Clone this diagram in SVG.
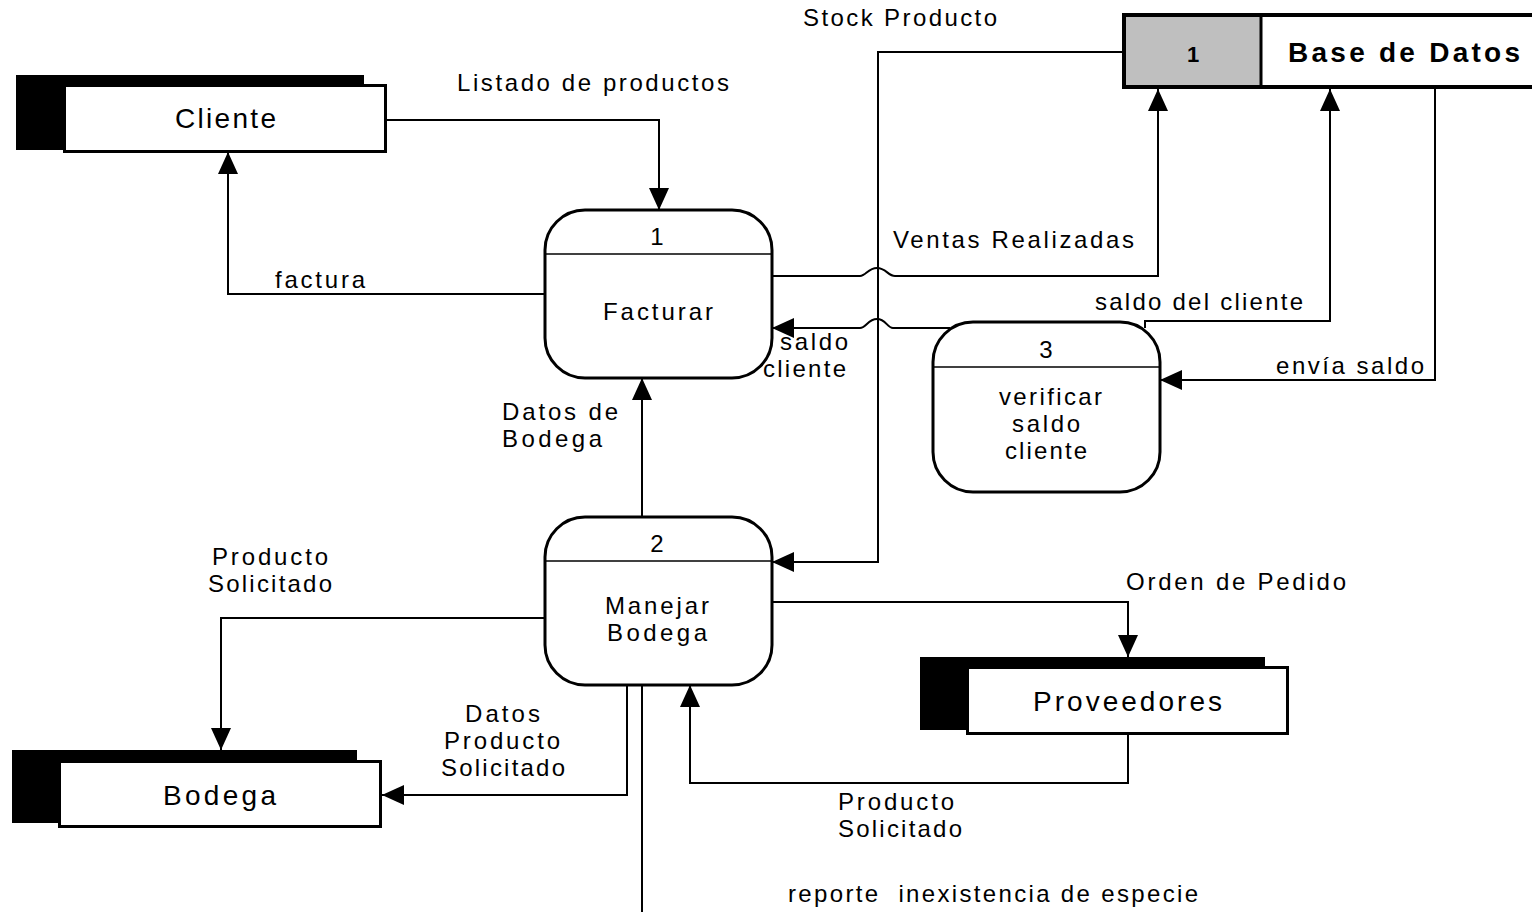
<svg xmlns="http://www.w3.org/2000/svg" width="1532" height="912" viewBox="0 0 1532 912">
<style>
text{font-family:"Liberation Sans",Arial,sans-serif;fill:#000}
.lbl{font-size:24px}
.ent{font-size:28px}
.bold{font-weight:bold;font-size:28px}
.proc{fill:#fff;stroke:#000;stroke-width:3}
.div{stroke:#000;stroke-width:1.5}
.shadow{fill:#000}
.box{fill:#fff;stroke:#000;stroke-width:3}
.conn{fill:none;stroke:#000;stroke-width:2}
</style>
<defs>
<marker id="arr" markerUnits="userSpaceOnUse" markerWidth="24" markerHeight="22" refX="22" refY="10" orient="auto">
<path d="M0,0 L22,10 L0,20 z" fill="#000"/>
</marker>
</defs>
<rect width="1532" height="912" fill="#fff"/>

<g id="connectors">
<path class="conn" d="M387,120 H659 V210" marker-end="url(#arr)"/>
<path class="conn" d="M545,294 H228 V152" marker-end="url(#arr)"/>
<path class="conn" d="M772,276 H860 C866,276 868,268 877,268 C886,268 888,276 895,276 H1158 V89" marker-end="url(#arr)"/>
<path class="conn" d="M950,328 H893 C887,328 886,319 877,319 C868,319 866,328 860,328 H772" marker-end="url(#arr)"/>
<path class="conn" d="M1145,328 V321 H1330 V89" marker-end="url(#arr)"/>
<path class="conn" d="M1435,89 V380 H1160" marker-end="url(#arr)"/>
<path class="conn" d="M1122,52 H878 V562 H772" marker-end="url(#arr)"/>
<path class="conn" d="M642,517 V378" marker-end="url(#arr)"/>
<path class="conn" d="M545,618 H221 V750" marker-end="url(#arr)"/>
<path class="conn" d="M627,685 V795 H382" marker-end="url(#arr)"/>
<path class="conn" d="M772,602 H1128 V657" marker-end="url(#arr)"/>
<path class="conn" d="M1128,735 V783 H690 V685" marker-end="url(#arr)"/>
<path class="conn" d="M642,685 V912"/>
</g>

<g id="labels">
<text class="lbl" x="803" y="26" textLength="194" lengthAdjust="spacing">Stock Producto</text>
<text class="lbl" x="457" y="91" textLength="272" lengthAdjust="spacing">Listado de productos</text>
<text class="lbl" x="275" y="288" textLength="90" lengthAdjust="spacing">factura</text>
<text class="lbl" x="893" y="248" textLength="241" lengthAdjust="spacing">Ventas Realizadas</text>
<text class="lbl" x="1095" y="310" textLength="208" lengthAdjust="spacing">saldo del cliente</text>
<text class="lbl" x="780" y="350" textLength="68" lengthAdjust="spacing">saldo</text>
<text class="lbl" x="763" y="377" textLength="83" lengthAdjust="spacing">cliente</text>
<text class="lbl" x="1276" y="374" textLength="148" lengthAdjust="spacing">envía saldo</text>
<text class="lbl" x="502" y="420" textLength="116" lengthAdjust="spacing">Datos de</text>
<text class="lbl" x="502" y="447" textLength="100" lengthAdjust="spacing">Bodega</text>
<text class="lbl" x="212" y="565" textLength="116" lengthAdjust="spacing">Producto</text>
<text class="lbl" x="208" y="592" textLength="124" lengthAdjust="spacing">Solicitado</text>
<text class="lbl" x="1126" y="590" textLength="220" lengthAdjust="spacing">Orden de Pedido</text>
<text class="lbl" x="465" y="722" textLength="75" lengthAdjust="spacing">Datos</text>
<text class="lbl" x="444" y="749" textLength="116" lengthAdjust="spacing">Producto</text>
<text class="lbl" x="441" y="776" textLength="124" lengthAdjust="spacing">Solicitado</text>
<text class="lbl" x="838" y="810" textLength="116" lengthAdjust="spacing">Producto</text>
<text class="lbl" x="838" y="837" textLength="124" lengthAdjust="spacing">Solicitado</text>
<text class="lbl" x="788" y="902" textLength="410" lengthAdjust="spacing" xml:space="preserve">reporte  inexistencia de especie</text>
</g>

<g id="cliente">
<rect class="shadow" x="16" y="75" width="348" height="75"/>
<rect class="box" x="64.5" y="85.5" width="321" height="66"/>
<text class="ent" x="175" y="128" textLength="101" lengthAdjust="spacing">Cliente</text>
</g>

<g id="bodega">
<rect class="shadow" x="12" y="750" width="345" height="73"/>
<rect class="box" x="59.5" y="761.5" width="321" height="65"/>
<text class="ent" x="163" y="805" textLength="113" lengthAdjust="spacing">Bodega</text>
</g>

<g id="proveedores">
<rect class="shadow" x="920" y="657" width="345" height="73"/>
<rect class="box" x="967.5" y="667.5" width="320" height="66"/>
<text class="ent" x="1033" y="711" textLength="189" lengthAdjust="spacing">Proveedores</text>
</g>

<g id="base-datos">
<rect x="1124" y="15" width="136" height="72" fill="#bfbfbf"/>
<rect x="1124" y="15" width="420" height="72" fill="none" stroke="#000" stroke-width="4"/>
<line x1="1261" y1="15" x2="1261" y2="87" stroke="#000" stroke-width="3"/>
<text class="bold" x="1193" y="62" text-anchor="middle" style="font-size:22px">1</text>
<text class="bold" x="1288" y="62" textLength="232" lengthAdjust="spacing">Base de Datos</text>
</g>

<g id="facturar">
<rect class="proc" x="545" y="210" width="227" height="168" rx="40" ry="40"/>
<line class="div" x1="545" y1="254" x2="772" y2="254"/>
<text class="lbl" x="657" y="245" text-anchor="middle">1</text>
<text class="lbl" x="603" y="320" textLength="110" lengthAdjust="spacing">Facturar</text>
</g>

<g id="verificar">
<rect class="proc" x="933" y="322" width="227" height="170" rx="40" ry="40"/>
<line class="div" x1="933" y1="367" x2="1160" y2="367"/>
<text class="lbl" x="1046" y="358" text-anchor="middle">3</text>
<text class="lbl" x="999" y="405" textLength="103" lengthAdjust="spacing">verificar</text>
<text class="lbl" x="1012" y="432" textLength="68" lengthAdjust="spacing">saldo</text>
<text class="lbl" x="1005" y="459" textLength="82" lengthAdjust="spacing">cliente</text>
</g>

<g id="manejar">
<rect class="proc" x="545" y="517" width="227" height="168" rx="40" ry="40"/>
<line class="div" x1="545" y1="561" x2="772" y2="561"/>
<text class="lbl" x="657" y="552" text-anchor="middle">2</text>
<text class="lbl" x="605" y="614" textLength="104" lengthAdjust="spacing">Manejar</text>
<text class="lbl" x="607" y="641" textLength="100" lengthAdjust="spacing">Bodega</text>
</g>
</svg>
